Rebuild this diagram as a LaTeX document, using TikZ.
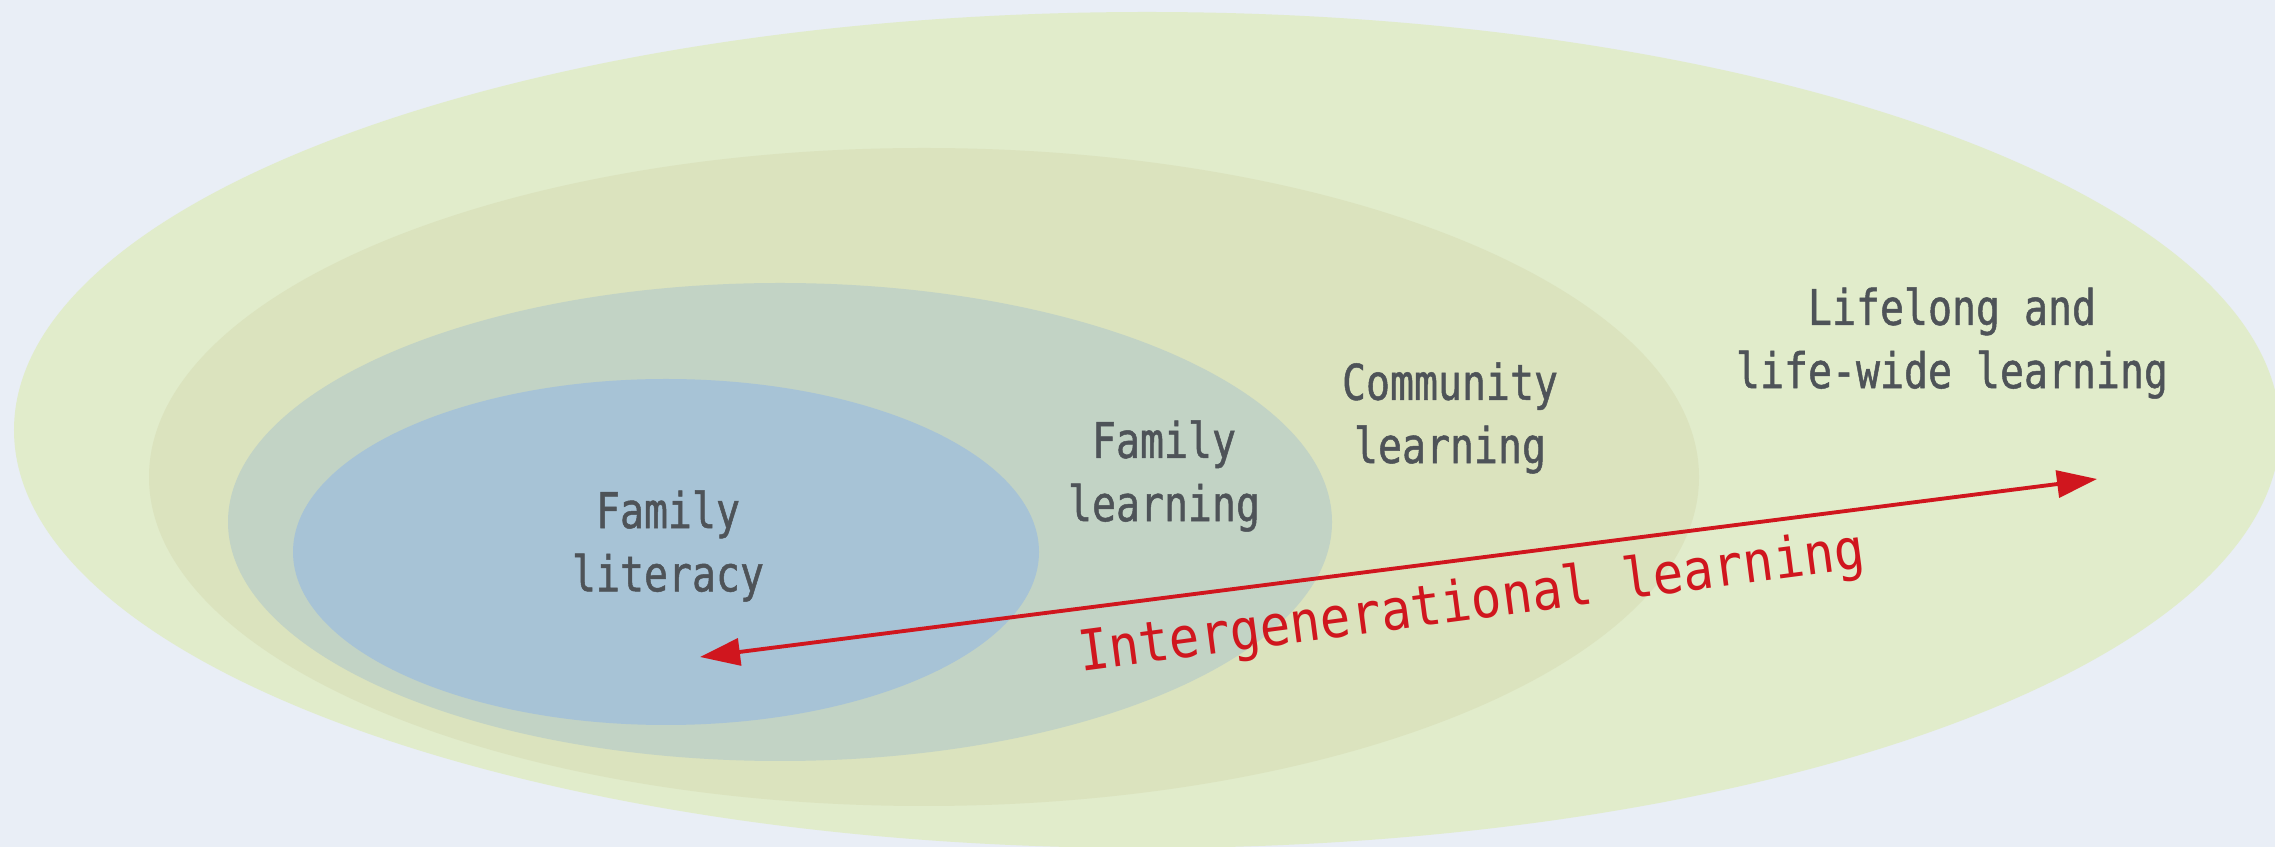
\documentclass[tikz,border=0pt]{standalone}
\usepackage{fontspec}
\usetikzlibrary{shapes.geometric,arrows.meta}
\newfontfamily\labelfont[FakeStretch=0.81,FakeBold=1]{DejaVu Sans Mono}
\newfontfamily\spanfont[FakeStretch=0.9]{DejaVu Sans Mono}

\definecolor{pagebg}{RGB}{233,238,246}
\definecolor{lifelongfill}{RGB}{225,236,203}
\definecolor{communityfill}{RGB}{219,227,190}
\definecolor{familylearnfill}{RGB}{194,211,197}
\definecolor{literacyfill}{RGB}{167,195,214}
\definecolor{labelgrey}{RGB}{78,83,88}
\definecolor{arrowred}{RGB}{208,22,30}

\tikzset{
  ring/.style={ellipse, draw=none, inner sep=0pt},
  ringlabel/.style={align=center, text=labelgrey, inner sep=0pt,
    font=\labelfont\fontsize{14}{18}\selectfont},
  spanarrow/.style={draw=arrowred, line width=1.1pt,
    {Triangle[length=4mm,width=2.7mm]}-{Triangle[length=4mm,width=2.7mm]}},
  spanlabel/.style={text=arrowred, inner sep=0pt,
    font=\spanfont\fontsize{16}{19}\selectfont}
}

\begin{document}
\begin{tikzpicture}
  \useasboundingbox (0,0) rectangle (22.75,-8.47);
  \clip (0,0) rectangle (22.75,-8.47);
  \fill[pagebg] (0,0) rectangle (22.75,-8.47);

  % nested learning contexts, outermost first
  \node[ring, fill=lifelongfill, minimum width=22.66cm, minimum height=8.36cm]
    (lifelong) at (11.47,-4.30) {};
  \node[ring, fill=communityfill, minimum width=15.50cm, minimum height=6.58cm]
    (community) at (9.24,-4.77) {};
  \node[ring, fill=familylearnfill, minimum width=11.04cm, minimum height=4.78cm]
    (familylearn) at (7.80,-5.22) {};
  \node[ring, fill=literacyfill, minimum width=7.46cm, minimum height=3.46cm]
    (literacy) at (6.66,-5.52) {};

  % labels
  \node[ringlabel] (tliteracy) at (6.68,-5.46) {Family\\literacy};
  \node[ringlabel] (tfamilylearn) at (11.64,-4.76) {Family\\learning};
  \node[ringlabel] (tcommunity) at (14.50,-4.18) {Community\\learning};
  \node[ringlabel] (tlifelong) at (19.52,-3.43) {Lifelong and\\life-wide learning};

  % intergenerational span
  \coordinate (youngend) at (7.00,-6.57);
  \coordinate (oldend) at (20.97,-4.79);
  \draw[spanarrow] (youngend) -- (oldend);
  \node[spanlabel, rotate=7.5] (tinter) at (14.72,-6.04) {Intergenerational learning};
\end{tikzpicture}
\end{document}
